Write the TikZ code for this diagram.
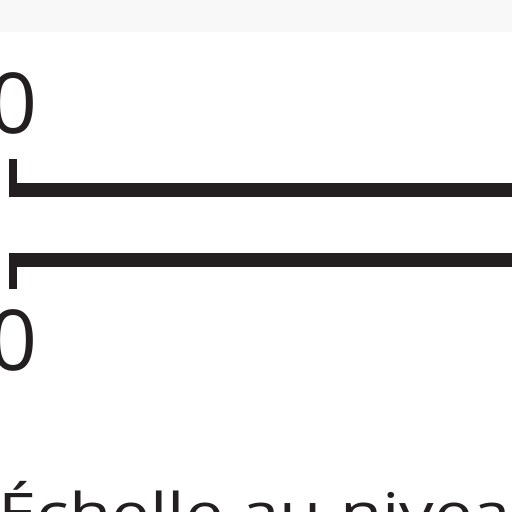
\documentclass[tikz,border=0pt]{standalone}
\usepackage{fontspec}
\setmainfont{Open Sans}
\definecolor{ink}{HTML}{231F20}
\definecolor{band}{HTML}{F8F8F8}
\begin{document}
\begin{tikzpicture}[x=1pt,y=-1pt,
  bar/.style={draw=ink,line width=14pt,line cap=butt},
  tickmark/.style={draw=ink,line width=8pt,line cap=butt},
  num/.style={text=ink,font=\fontsize{84}{84}\selectfont,inner sep=0pt,anchor=base},
  captext/.style={text=ink,font=\fontsize{56}{56}\selectfont,inner sep=0pt,anchor=base west,xscale=1.23}]
\useasboundingbox (0,0) rectangle (512,512);
\fill[white] (0,0) rectangle (512,512);
\fill[band] (0,0) rectangle (512,32);
\clip (0,0) rectangle (512,512);
% top scale
\node[num] (ztop) at (14,133) {0};
\coordinate (t1a) at (13,159);
\coordinate (t1b) at (13,190);
\coordinate (b1a) at (9,190);
\coordinate (b1b) at (530,190);
\draw[tickmark] (t1a) -- (t1b);
\draw[bar] (b1a) -- (b1b);
% bottom scale
\coordinate (t2a) at (13,289);
\coordinate (t2b) at (13,260);
\coordinate (b2a) at (9,260);
\coordinate (b2b) at (530,260);
\draw[tickmark] (t2a) -- (t2b);
\draw[bar] (b2a) -- (b2b);
\node[num] (zbot) at (14,370) {0};
% caption
\node[captext] (caption) at (-2,533) {Échelle au niveau};
\end{tikzpicture}
\end{document}
